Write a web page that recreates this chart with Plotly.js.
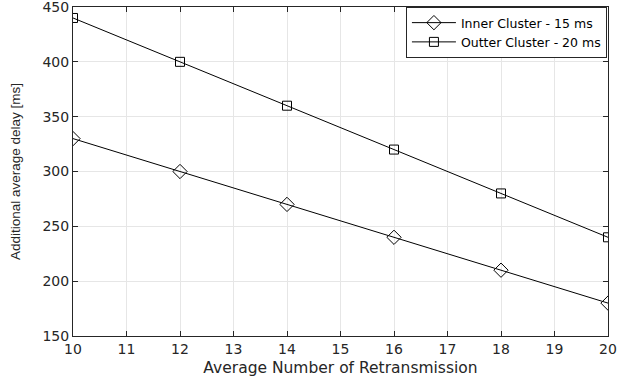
<!DOCTYPE html>
<html><head><meta charset="utf-8">
<script src="https://cdn.plot.ly/plotly-3.0.1.min.js"></script>
<style>body{margin:0;background:#fff}#g{width:630px;height:383px}</style>
</head><body><div id="g"></div>
<script>
const xVals = [10, 12, 14, 16, 18, 20];
const innerDelay = [330, 300, 270, 240, 210, 180];
const outerDelay = [440, 400, 360, 320, 280, 240];
const seriesNames = ['Inner Cluster - 15 ms', 'Outter Cluster - 20 ms'];

const wide = 'DejaVu Sans, Verdana, sans-serif';
const traces = [
  {x: xVals, y: innerDelay, name: seriesNames[0], mode: 'lines+markers', type: 'scatter',
   line: {color: '#000', width: 1}, marker: {symbol: 'diamond-open', size: 11, color: '#000', line: {width: 1}}},
  {x: xVals, y: outerDelay, name: seriesNames[1], mode: 'lines+markers', type: 'scatter',
   line: {color: '#000', width: 1}, marker: {symbol: 'square-open', size: 9, color: '#000', line: {width: 1}}}
];
const axisCommon = {showline: true, linecolor: '#262626', linewidth: 1, mirror: 'ticks',
  ticks: 'inside', ticklen: 5, tickcolor: '#262626', showgrid: true, gridcolor: '#e6e6e6',
  zeroline: false, ticklabeloverflow: 'allow', tickfont: {family: wide, size: 14, color: '#262626'}};
const layout = {
  width: 630, height: 383,
  margin: {l: 73, r: 22, t: 7, b: 47},
  paper_bgcolor: '#fff', plot_bgcolor: '#fff',
  showlegend: true,
  legend: {x: 0.998, y: 1, xanchor: 'right', yanchor: 'top', bgcolor: '#fff', bordercolor: '#262626', borderwidth: 1,
    font: {family: wide, size: 12.5, color: '#000'}, tracegroupgap: 0, itemwidth: 44},
  xaxis: Object.assign({}, axisCommon, {range: [10, 20], dtick: 1,
    title: {text: 'Average Number of Retransmission', standoff: 6, font: {family: wide, size: 15.5, color: '#262626'}}}),
  yaxis: Object.assign({}, axisCommon, {range: [150, 450], dtick: 50,
    title: {text: 'Additional average delay [ms]', standoff: 18, font: {family: 'Liberation Sans, Arial, sans-serif', size: 13.5, color: '#262626'}}})
};
Plotly.newPlot('g', traces, layout, {displayModeBar: false, staticPlot: true});
</script></body></html>
